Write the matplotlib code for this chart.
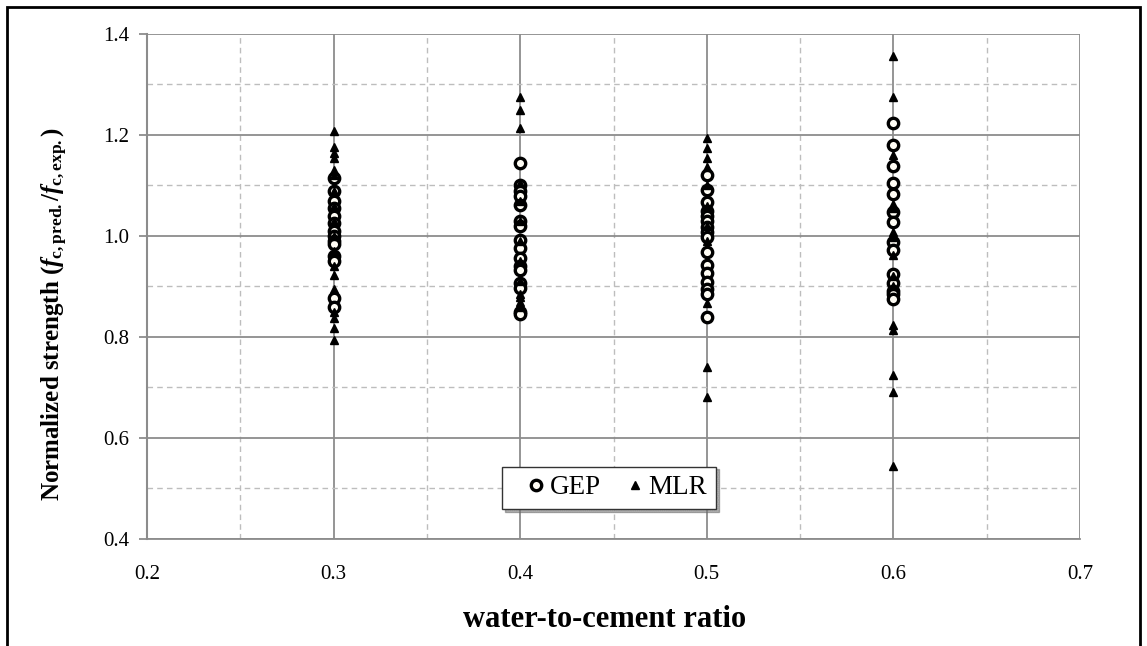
import matplotlib
matplotlib.use("Agg")
import matplotlib.pyplot as plt
from matplotlib.patches import Rectangle
from matplotlib.ticker import MultipleLocator

plt.rcParams['font.family'] = ['Liberation Serif', 'DejaVu Serif']
plt.rcParams['mathtext.fontset'] = 'custom'
plt.rcParams['mathtext.rm'] = 'Liberation Serif:bold'
plt.rcParams['mathtext.it'] = 'Liberation Serif:italic:bold'
plt.rcParams['mathtext.bf'] = 'Liberation Serif:bold'

# ---- data ----
gep_x03 = [1.115, 1.09, 1.07, 1.055, 1.04, 1.025, 1.01, 1.0, 0.99, 0.985, 0.96, 0.95, 0.878, 0.86]
mlr_x03 = [1.207, 1.177, 1.164, 1.155, 1.131, 1.12, 1.09, 1.06, 1.03, 1.0, 0.97, 0.94, 0.923,
           0.895, 0.85, 0.838, 0.818, 0.795]
gep_x04 = [1.145, 1.10, 1.09, 1.08, 1.061, 1.03, 1.02, 0.992, 0.976, 0.956, 0.94, 0.933,
           0.907, 0.897, 0.85, 0.845]
mlr_x04 = [1.276, 1.25, 1.213, 1.105, 1.07, 1.03, 0.99, 0.95, 0.91, 0.885, 0.879, 0.869, 0.86]
gep_x05 = [1.121, 1.091, 1.067, 1.05, 1.04, 1.03, 1.018, 1.008, 0.998, 0.969, 0.943, 0.927,
           0.909, 0.895, 0.885, 0.84]
mlr_x05 = [1.194, 1.174, 1.154, 1.137, 1.10, 1.06, 1.02, 0.99, 0.867, 0.741, 0.681]
gep_x06 = [1.224, 1.18, 1.138, 1.104, 1.084, 1.048, 1.028, 0.988, 0.973, 0.925, 0.906,
           0.892, 0.885, 0.876]
mlr_x06 = [1.357, 1.275, 1.16, 1.064, 1.055, 1.008, 0.998, 0.962, 0.92, 0.90, 0.823, 0.813,
           0.724, 0.691, 0.545]

wc_ratios = [0.3, 0.4, 0.5, 0.6]
gep_sets = [gep_x03, gep_x04, gep_x05, gep_x06]
mlr_sets = [mlr_x03, mlr_x04, mlr_x05, mlr_x06]

x_ticks = [0.2, 0.3, 0.4, 0.5, 0.6, 0.7]
y_ticks = [0.4, 0.6, 0.8, 1.0, 1.2, 1.4]

# ---- figure ----
fig = plt.figure(figsize=(11.47, 6.46), dpi=100)
ax = fig.add_axes([147/1147, 1 - 539/646, (1080-147)/1147, (539-34)/646])

ax.set_xlim(0.2, 0.7)
ax.set_ylim(0.4, 1.4)
ax.set_xticks(x_ticks)
ax.set_yticks(y_ticks)
ax.xaxis.set_minor_locator(MultipleLocator(0.05))
ax.yaxis.set_minor_locator(MultipleLocator(0.1))
ax.set_xticklabels([f"{v:.1f}" for v in x_ticks])
ax.set_yticklabels([f"{v:.1f}" for v in y_ticks])

ax.grid(which='major', color='#8c8c8c', linewidth=1.3, linestyle='-', zorder=0)
ax.grid(which='minor', color='#bdbdbd', linewidth=1.0, linestyle=(0, (4, 3)), zorder=0)
ax.set_axisbelow(True)

for s in ['top', 'right']:
    ax.spines[s].set_visible(False)
ax.spines['left'].set_color('#8c8c8c')
ax.spines['left'].set_linewidth(1.5)
ax.spines['bottom'].set_color('#8c8c8c')
ax.spines['bottom'].set_linewidth(1.3)

ax.tick_params(axis='y', which='major', length=6, width=1.3, color='#8c8c8c', pad=7,
               labelsize=15)
ax.tick_params(axis='x', which='major', length=0, pad=19, labelsize=15)
ax.tick_params(which='minor', length=0)

for i, wc in enumerate(wc_ratios):
    ax.plot([wc] * len(gep_sets[i]), gep_sets[i], linestyle='none', marker='o',
            markersize=7.5, markerfacecolor='#fffdf5', markeredgecolor='black',
            markeredgewidth=2.4, zorder=3, label='GEP' if i == 0 else None)
for i, wc in enumerate(wc_ratios):
    ax.plot([wc] * len(mlr_sets[i]), mlr_sets[i], linestyle='none', marker='^',
            markersize=6, color='black', zorder=4, label='MLR' if i == 0 else None)

leg = ax.legend(loc='center', bbox_to_anchor=(0.4955, 0.101), ncol=2, frameon=True,
                fancybox=False, edgecolor='#333333', framealpha=1, fontsize=19.5,
                handletextpad=-0.38, columnspacing=0.35, borderpad=0.33,
                shadow={'facecolor': '#8a8a8a', 'hatch': '........', 'edgecolor': '#666666'},
                handlelength=1.8)
leg.get_frame().set_linewidth(1.0)

ax.set_xlabel('water-to-cement ratio', fontsize=22, fontweight='bold')
ax.xaxis.set_label_coords(0.49, -0.13)
ax.set_ylabel(r'Normalized strength ($\mathit{f}_{\mathrm{c,pred.}}$/$\mathit{f}_{\mathrm{c,exp.}}$)',
              fontsize=18, fontweight='bold')
ax.yaxis.set_label_coords(-0.083, 0.445)

# outer frame
fig.patches.append(Rectangle((7/1147, -0.05), (1140-7)/1147, 1.05 - 7/646,
                             transform=fig.transFigure, fill=False, edgecolor='black',
                             linewidth=2.0, zorder=10))

fig.savefig('out.png', dpi=100)
